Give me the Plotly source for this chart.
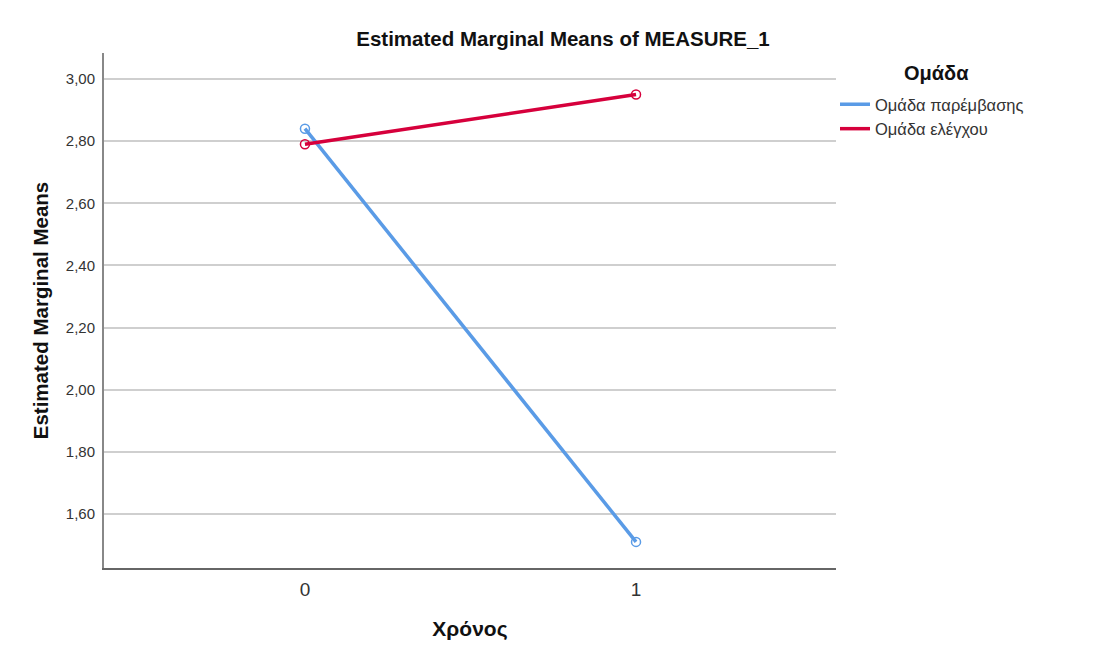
import plotly.graph_objects as go

time_points = [0, 1]
group_names = ["Ομάδα παρέμβασης", "Ομάδα ελέγχου"]
intervention_means = [2.84, 1.51]
control_means = [2.79, 2.95]
y_tick_vals = [1.6, 1.8, 2.0, 2.2, 2.4, 2.6, 2.8, 3.0]
legend_title = "Ομάδα"

colors = ["#5a9be6", "#d6003c"]
FONT = "Liberation Sans, Arial, sans-serif"

fig = go.Figure()
for name, vals, col in zip(group_names, [intervention_means, control_means], colors):
    # line (shown in legend)
    fig.add_trace(go.Scatter(
        x=time_points, y=vals, name=name, mode="lines", legendgroup=name,
        line=dict(color=col, width=3.5),
    ))
    # open-circle markers (not in legend)
    fig.add_trace(go.Scatter(
        x=time_points, y=vals, name=name, mode="markers", legendgroup=name, showlegend=False,
        marker=dict(symbol="circle-open", size=9, color=col, line=dict(width=1.5, color=col)),
    ))

L, R, T, B = 96, 280, 45, 96
W, H = 1108, 656
pw, ph = W - L - R, H - T - B

def px_x(p):
    return (p - L) / pw

def px_y(p):
    return (H - B - p) / ph

fig.update_layout(
    width=W, height=H,
    margin=dict(l=L, r=R, t=T, b=B, pad=0),
    paper_bgcolor="white", plot_bgcolor="white",
    separators=",.",
    font=dict(family=FONT, color="#222"),
    title=dict(text="<b>Estimated Marginal Means of MEASURE_1</b>", x=555 / W, xanchor="center",
               y=1 - 31 / H, yanchor="middle", font=dict(size=20.5, color="#111", family=FONT)),
    xaxis=dict(range=[-0.607, 1.604], tickvals=time_points, ticktext=[str(t) for t in time_points],
               showgrid=False, zeroline=False, showline=True, linecolor="#666", linewidth=2,
               ticks="outside", ticklen=3, tickcolor="rgba(0,0,0,0)",
               tickfont=dict(size=19, color="#333", family=FONT),
               title=dict(text="<b>Χρόνος</b>", font=dict(size=21, color="#111", family=FONT), standoff=23)),
    yaxis=dict(range=[1.426, 3.0837], tickvals=y_tick_vals, tickformat=".2f",
               showgrid=True, gridcolor="#cfcfcf", gridwidth=1.5, zeroline=False,
               showline=True, linecolor="#888", linewidth=2, ticks="outside", ticklen=4,
               tickcolor="rgba(0,0,0,0)",
               tickfont=dict(size=15, color="#333", family=FONT),
               title=dict(text="<b>Estimated Marginal Means</b>", font=dict(size=20.5, color="#111", family=FONT), standoff=12)),
    legend=dict(x=px_x(827), y=px_y(79), xanchor="left", yanchor="top",
                font=dict(size=16.5, color="#333", family=FONT), itemwidth=30, tracegroupgap=0,
                bgcolor="rgba(0,0,0,0)"),
    showlegend=True,
)

fig.add_annotation(text="<b>" + legend_title + "</b>", xref="paper", yref="paper",
                   x=px_x(928), y=px_y(65), xanchor="center", yanchor="middle", showarrow=False,
                   font=dict(size=20, color="#111", family=FONT))

fig.write_html("out.html")
